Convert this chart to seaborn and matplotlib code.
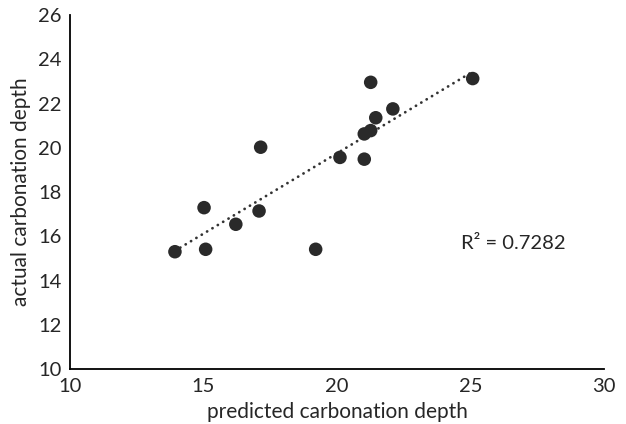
import matplotlib
matplotlib.use("Agg")
import matplotlib.pyplot as plt
import seaborn as sns
import numpy as np
import pandas as pd

predicted = [13.93, 15.08, 15.02, 16.21, 17.08, 17.14, 19.20, 20.11, 21.02, 21.02, 21.26, 21.26, 21.45, 22.09, 25.08]
actual = [15.31, 15.42, 17.30, 16.55, 17.15, 20.03, 15.42, 19.57, 19.49, 20.63, 20.78, 22.96, 21.36, 21.76, 23.13]
x_ticks = [10, 15, 20, 25, 30]
y_ticks = [10, 12, 14, 16, 18, 20, 22, 24, 26]
r2_label = "R² = 0.7282"

sns.set_theme(style="white")
plt.rcParams['font.family'] = ['Lato', 'DejaVu Sans']

df = pd.DataFrame({"predicted": predicted, "actual": actual})

fig = plt.figure(figsize=(6.26, 4.24), dpi=100)
ax = fig.add_axes([0.1118, 0.129, 0.8532, 0.8356])

sns.regplot(data=df, x="predicted", y="actual", ax=ax, ci=None, truncate=True,
            scatter_kws=dict(s=95, color="#2a2a2a", edgecolor="none", alpha=1, zorder=3),
            line_kws=dict(color="#333333", linewidth=2.0, linestyle=(0, (0.05, 2.2)),
                          dash_capstyle="round", zorder=2))

ax.set_xlim(10, 30)
ax.set_ylim(10, 26)
ax.set_xticks(x_ticks)
ax.set_yticks(y_ticks)
ax.set_xlabel("predicted carbonation depth", fontsize=15, color="#262626", labelpad=5)
ax.set_ylabel("actual carbonation depth", fontsize=15, color="#262626", labelpad=5)
ax.tick_params(axis="both", direction="in", length=4, width=1.2, labelsize=14.5,
               colors="#262626")
ax.tick_params(axis="y", pad=6)
ax.tick_params(axis="x", pad=6)
for s in ["top", "right"]:
    ax.spines[s].set_visible(False)
for s in ["left", "bottom"]:
    ax.spines[s].set_color("#000000")
    ax.spines[s].set_linewidth(1.3)

ax.text(24.65, 15.7, r2_label, fontsize=14.5, color="#262626", va="center", ha="left")

fig.savefig("out.png", dpi=100)
